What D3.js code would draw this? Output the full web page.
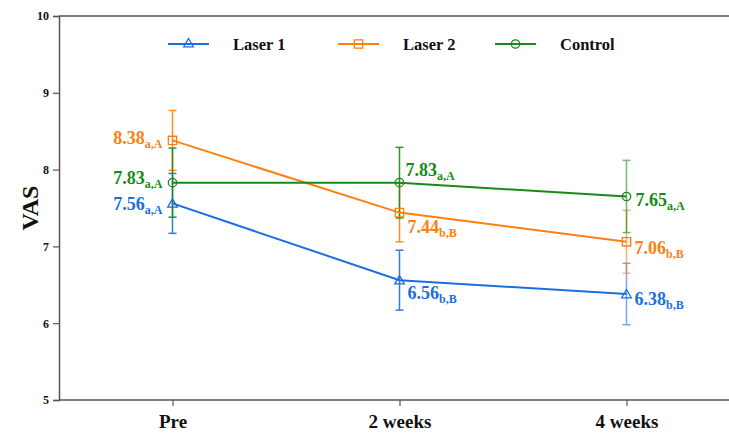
<!DOCTYPE html>
<html><head><meta charset="utf-8">
<script src="https://cdn.jsdelivr.net/npm/d3@7"></script>
<style>body{margin:0;background:#fff}svg{display:block}
svg text{font-family:"Liberation Serif","Times New Roman",Tinos,"DejaVu Serif",serif !important;font-weight:bold}</style>
</head><body>
<svg id="c" width="729" height="433"></svg>
<script>
const categories = ["Pre", "2 weeks", "4 weeks"];
const seriesNames = ["Laser 1", "Laser 2", "Control"];
const laser1 = [7.56, 6.56, 6.38];
const laser2 = [8.38, 7.44, 7.06];
const control = [7.83, 7.83, 7.65];
const laser1Err = [0.39, 0.39, 0.40];
const laser2Err = [0.39, 0.38, 0.41];
const controlErr = [0.45, 0.46, 0.47];
const laser1Sub = ["a,A", "b,B", "b,B"];
const laser2Sub = ["a,A", "b,B", "b,B"];
const controlSub = ["a,A", "a,A", "a,A"];
const yTicks = [5, 6, 7, 8, 9, 10];

const colors = ["#1a6fdf", "#ff7f0e", "#178a17"];
const symbols = [d3.symbolTriangle, d3.symbolSquare, d3.symbolCircle];
const symSizes = [40, 70, 55];
// label offsets [dx, dy(baseline relative to point)] per series per category
const labelOff = [
  [[-10, 7], [8, 19], [8, 11]],
  [[-10, 4], [8, 20], [8, 12]],
  [[-10, 1], [6, -7], [9, 10]]
];

const series = [
  {name: seriesNames[0], vals: laser1, err: laser1Err, sub: laser1Sub},
  {name: seriesNames[1], vals: laser2, err: laser2Err, sub: laser2Sub},
  {name: seriesNames[2], vals: control, err: controlErr, sub: controlSub}
];

const svg = d3.select("#c");
const L = 59, T = 16, B = 400, R = 740;
const x = d3.scalePoint().domain(categories).range([L, R]).padding(0.5);
const y = d3.scaleLinear().domain([5, 10]).range([B, T]);

svg.append("line").attr("x1", L).attr("x2", 729).attr("y1", T).attr("y2", T)
  .attr("stroke", "#555").attr("stroke-width", 1.5);

const yAxis = svg.append("g").attr("transform", `translate(${L},0)`)
  .call(d3.axisLeft(y).tickValues(yTicks).tickSize(6).tickPadding(4).tickFormat(d3.format("d")));
yAxis.select(".domain").attr("stroke", "#555").attr("stroke-width", 1.5);
yAxis.selectAll(".tick line").attr("stroke", "#555").attr("stroke-width", 1.2);
yAxis.selectAll("text").attr("font-size", 12).attr("fill", "#111");

const xAxis = svg.append("g").attr("transform", `translate(0,${B})`)
  .call(d3.axisBottom(x).tickSize(6).tickPadding(9));
xAxis.select(".domain").attr("d", `M${L},0H729`).attr("stroke", "#555").attr("stroke-width", 1.5);
xAxis.selectAll(".tick line").attr("stroke", "#555").attr("stroke-width", 1.2);
xAxis.selectAll("text").attr("font-size", 19).attr("fill", "#111");

svg.append("text").attr("transform", `translate(38,208) rotate(-90)`)
  .attr("text-anchor", "middle").attr("font-size", 24).attr("fill", "#111").text("VAS");

series.forEach((s, si) => {
  const g = svg.append("g").attr("stroke", colors[si]).attr("stroke-width", 1.5);
  s.vals.forEach((v, i) => {
    const cx = x(categories[i]);
    const e = g.append("g").attr("opacity", i === 2 ? 0.6 : 0.9);
    e.append("line").attr("x1", cx).attr("x2", cx).attr("y1", y(v + s.err[i])).attr("y2", y(v - s.err[i]));
    [v + s.err[i], v - s.err[i]].forEach(w => {
      e.append("line").attr("x1", cx - 4).attr("x2", cx + 4).attr("y1", y(w)).attr("y2", y(w));
    });
  });
});

const line = d3.line().x((d, i) => x(categories[i])).y(d => y(d));
series.forEach((s, si) => {
  svg.append("path").datum(s.vals).attr("d", line).attr("fill", "none")
    .attr("stroke", colors[si]).attr("stroke-width", 2);
});

series.forEach((s, si) => {
  s.vals.forEach((v, i) => {
    svg.append("path").attr("d", d3.symbol(symbols[si], symSizes[si])())
      .attr("transform", `translate(${x(categories[i])},${y(v) + (si === 0 ? 1 : 0)})`)
      .attr("fill", "none").attr("stroke", colors[si]).attr("stroke-width", 1.3);
  });
});

series.forEach((s, si) => {
  s.vals.forEach((v, i) => {
    const [dx, dy] = labelOff[si][i];
    const t = svg.append("text").attr("x", x(categories[i]) + dx).attr("y", y(v) + dy)
      .attr("text-anchor", i === 0 ? "end" : "start").attr("fill", colors[si]);
    t.append("tspan").attr("font-size", 18).text(v.toFixed(2));
    t.append("tspan").attr("font-size", 12).attr("dy", 4).text(s.sub[i]);
  });
});

const legX = [168, 338, 495];
const legY = 44;
series.forEach((s, si) => {
  const g = svg.append("g").attr("transform", `translate(${legX[si]},${legY})`);
  g.append("line").attr("x1", 0).attr("x2", 41).attr("stroke", colors[si]).attr("stroke-width", 2);
  g.append("path").attr("d", d3.symbol(symbols[si], symSizes[si])())
    .attr("transform", `translate(20.5,0)`)
    .attr("fill", "none").attr("stroke", colors[si]).attr("stroke-width", 1.3);
  g.append("text").attr("x", 65).attr("y", 6).attr("font-size", 16.5).attr("fill", "#111").text(s.name);
});
</script>
</body></html>
